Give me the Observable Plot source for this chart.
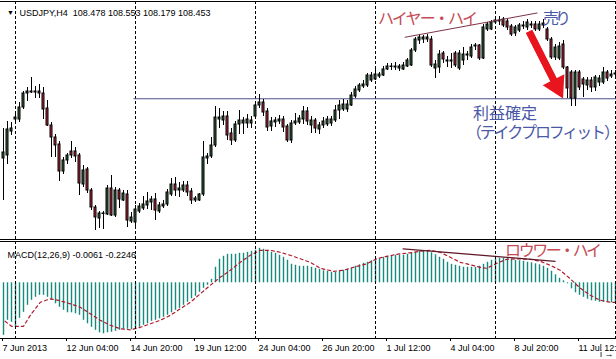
<!DOCTYPE html>
<html><head><meta charset="utf-8">
<script src="https://cdn.jsdelivr.net/npm/d3@7"></script>
<script src="https://cdn.jsdelivr.net/npm/@observablehq/plot@0.6"></script>
<style>
body{margin:0;background:#fff;}
#chart{position:relative;width:616px;height:359px;overflow:hidden;background:#fff;}
#chart svg{position:absolute;left:0;display:block;}
</style></head><body><div id="chart"></div>
<script>
// ---- price data (USDJPY H4), bar index 0..153 ----
const open = [95.98,96.10,97.06,97.54,97.54,98.02,98.58,98.66,98.62,98.66,
98.58,97.98,97.30,96.82,96.54,95.46,95.90,96.26,96.26,96.10,
94.94,95.54,94.70,94.02,93.58,93.78,93.74,94.78,93.70,94.70,
94.30,94.54,93.46,93.42,93.86,93.98,94.10,94.22,94.34,93.86,
94.06,94.14,94.54,94.94,94.70,94.70,94.90,94.66,94.30,94.30,
94.54,95.98,96.06,96.50,97.54,97.50,97.66,96.98,96.70,97.34,
97.38,97.38,97.38,97.66,98.10,98.22,97.86,97.26,97.42,97.46,
97.54,97.26,96.70,97.38,97.42,97.54,97.86,97.30,97.50,97.14,
97.30,97.34,97.38,97.50,97.90,97.94,97.94,98.10,98.46,98.70,
98.86,98.90,99.10,99.14,99.26,99.30,99.54,99.66,99.62,99.58,
99.54,99.66,99.70,100.30,100.70,100.74,100.74,100.74,99.58,99.62,
100.18,99.86,99.90,100.18,99.58,99.90,100.10,100.06,100.46,100.50,
99.98,101.14,101.14,101.42,101.46,101.54,101.46,101.26,100.98,101.10,
101.26,101.22,101.30,101.34,101.14,101.30,101.14,100.74,100.02,99.98,
100.54,99.62,99.42,98.38,99.42,99.14,98.90,99.10,98.82,99.02,
99.02,99.42,99.26,99.34];
const high = [97.18,97.46,97.42,97.82,98.22,98.66,98.82,99.22,98.86,98.94,
98.82,98.30,97.42,96.94,96.66,96.02,96.18,96.66,96.42,96.18,
95.70,95.62,94.78,94.10,93.86,93.86,94.90,95.30,94.82,94.78,
94.70,94.70,93.82,94.10,94.18,94.46,94.62,94.46,94.58,94.22,
94.30,94.74,95.18,95.22,95.02,95.06,95.06,94.78,94.46,94.58,
96.66,96.18,96.82,98.06,97.98,97.86,97.86,97.18,97.46,97.90,
97.62,97.74,97.66,98.26,98.54,98.34,97.98,97.62,97.62,97.70,
97.66,97.34,97.50,97.78,97.70,98.06,98.02,97.66,97.58,97.42,
97.62,97.66,97.66,98.10,98.30,98.34,98.30,98.62,98.86,98.98,
99.10,99.38,99.42,99.62,99.42,99.66,99.78,99.78,99.82,99.74,
99.82,99.98,100.38,100.82,100.94,100.90,100.94,100.86,99.90,100.30,
100.26,100.06,100.18,100.26,100.30,100.42,100.26,100.54,100.58,100.54,
101.34,101.42,101.50,101.62,101.66,101.62,101.54,101.34,101.30,101.38,
101.46,101.54,101.46,101.46,101.46,101.54,101.22,100.82,100.54,100.62,
100.70,99.66,99.50,99.50,99.50,99.22,99.22,99.22,99.30,99.30,
99.62,99.50,99.50,99.50];
const low = [94.30,95.74,96.90,97.34,97.42,97.94,98.26,98.58,98.38,98.38,
97.54,97.26,96.02,96.02,95.06,95.34,95.74,95.98,95.82,94.50,
94.82,94.58,93.90,93.10,93.18,93.14,93.70,93.66,93.62,93.98,
94.26,93.22,93.38,93.22,93.78,93.90,93.94,93.90,93.50,93.78,
93.98,94.06,94.46,94.46,94.42,94.62,94.46,94.14,94.22,94.26,
94.46,95.74,95.98,96.42,97.18,97.30,96.70,96.50,96.62,96.94,
96.94,97.18,97.18,97.58,97.98,97.66,97.06,97.06,97.22,97.34,
97.02,96.62,96.58,97.30,97.34,97.34,97.30,96.98,96.98,96.94,
97.18,97.26,97.26,97.42,97.54,97.86,97.82,98.06,98.38,98.62,
98.78,98.82,99.02,99.10,99.18,99.26,99.50,99.50,99.50,99.46,
99.50,99.62,99.66,100.22,100.54,100.58,100.62,99.62,99.18,99.38,
99.78,99.62,99.58,99.62,99.50,99.70,99.90,99.98,100.30,99.90,
99.94,101.06,101.10,101.34,101.30,101.22,101.10,100.86,100.86,101.02,
101.14,101.10,101.18,101.06,101.06,101.18,100.66,99.94,99.90,99.90,
99.54,98.38,98.06,98.06,98.70,98.42,98.70,98.62,98.66,98.86,
98.94,99.06,99.18,99.18];
const close = [96.22,97.14,97.18,97.62,98.02,98.58,98.66,98.62,98.66,98.58,
97.94,97.30,96.82,96.50,95.46,95.90,96.10,96.10,96.06,94.98,
95.50,94.70,94.02,93.62,93.78,93.76,94.78,93.70,94.70,94.34,
94.58,93.50,93.62,93.94,94.06,94.14,94.26,94.34,93.90,94.10,
94.14,94.62,94.94,94.70,94.78,94.90,94.62,94.30,94.38,94.54,
96.02,96.06,96.50,97.62,97.62,97.66,96.90,96.70,97.34,97.50,
97.50,97.54,97.50,98.10,98.22,97.82,97.22,97.46,97.50,97.54,
97.22,96.70,97.38,97.46,97.58,97.86,97.46,97.50,97.18,97.30,
97.46,97.54,97.54,97.90,98.10,98.14,98.14,98.50,98.74,98.90,
98.94,99.30,99.30,99.34,99.34,99.54,99.66,99.64,99.66,99.66,
99.70,99.90,100.30,100.74,100.82,100.82,100.82,99.70,99.74,100.14,
99.94,99.90,99.86,99.70,100.18,100.14,100.14,100.42,100.50,99.98,
101.22,101.34,101.42,101.50,101.50,101.30,101.22,100.94,101.22,101.30,
101.30,101.42,101.34,101.14,101.34,101.38,100.74,100.02,100.42,100.46,
99.62,98.78,98.38,99.42,98.82,98.94,99.10,98.82,99.22,99.18,
99.42,99.18,99.34,99.38];

// ---- MACD(12,26,9): main (histogram) per bar, signal read at sampled bars ----
const macdHist = [-1.05,-0.75,-0.79,-0.89,-0.71,-0.59,-0.45,-0.35,-0.29,-0.25,
-0.25,-0.29,-0.35,-0.42,-0.49,-0.55,-0.60,-0.60,-0.62,-0.65,
-0.75,-0.82,-0.89,-0.95,-1.00,-1.02,-1.00,-0.99,-0.97,-0.95,
-0.93,-0.93,-0.94,-0.92,-0.89,-0.85,-0.82,-0.77,-0.75,-0.72,
-0.69,-0.65,-0.60,-0.55,-0.51,-0.45,-0.39,-0.32,-0.27,-0.19,
-0.11,-0.05,0.07,0.31,0.47,0.53,0.57,0.57,0.57,0.59,
0.59,0.61,0.63,0.65,0.69,0.67,0.65,0.61,0.59,0.55,
0.51,0.45,0.37,0.35,0.33,0.33,0.33,0.31,0.29,0.27,
0.24,0.23,0.21,0.21,0.23,0.25,0.27,0.29,0.33,0.36,
0.39,0.41,0.44,0.46,0.48,0.51,0.53,0.54,0.55,0.55,
0.55,0.57,0.59,0.61,0.63,0.64,0.63,0.60,0.56,0.51,
0.47,0.41,0.37,0.35,0.33,0.31,0.31,0.31,0.31,0.33,
0.37,0.41,0.45,0.48,0.49,0.49,0.48,0.47,0.45,0.44,
0.43,0.41,0.40,0.38,0.36,0.33,0.29,0.23,0.16,0.09,
0.04,-0.02,-0.12,-0.20,-0.25,-0.29,-0.33,-0.36,-0.37,-0.39,
-0.39,-0.39,-0.40,-0.40];
const signalBar = [0.4,2,5,6.7,9.2,11.7,13.75,16.7,19.2,21.7,24.2,26.7,29.2,31.7,34.2,36.7,39.2,41.7,44.2,46.7,49.2,51.7,54.2,56.7,59.2,61.7,64.2,66.7,69.2,71.7,74.2,76.7,79.2,82.5,85,87.5,90.8,93.3,95.8,99.2,101.7,104.2,106.7,109.2,111.7,114.2,116.7,119.2,120.8,123.3,125.8,128.3,131.7,134.2,136.7,139.2,141.7,144.2,146.7,149.2,151.7,153];
const signalVal = [-0.77,-0.87,-0.87,-0.65,-0.39,-0.32,-0.35,-0.42,-0.49,-0.62,-0.75,-0.85,-0.92,-0.94,-0.89,-0.82,-0.75,-0.65,-0.52,-0.39,-0.22,-0.05,0.11,0.25,0.41,0.55,0.65,0.65,0.61,0.55,0.48,0.41,0.29,0.23,0.25,0.31,0.38,0.48,0.53,0.58,0.60,0.63,0.65,0.61,0.51,0.41,0.36,0.31,0.29,0.39,0.47,0.48,0.47,0.43,0.35,0.25,0.08,-0.11,-0.25,-0.35,-0.39,-0.39];

// ---- time axis ----
const tickBars = [0,16,32,48,64,80,96,112,128,144];
const tickLabels = ["7 Jun 2013","12 Jun 04:00","14 Jun 20:00","19 Jun 12:00","24 Jun 04:00","26 Jun 20:00","1 Jul 12:00","4 Jul 04:00","8 Jul 20:00","11 Jul 12:00"];
const gridBars = [3,33,63,93,123,153];

// ---- drawn objects (bar index, price / MACD value) ----
const headerText = "USDJPY,H4  108.478 108.553 108.179 108.453";
const macdText = "MACD(12,26,9) -0.0061 -0.2246";
const takeProfitPrice = 98.37, takeProfitFrom = 32.6, takeProfitTo = 153.4;
const higherHighLine = [{i:100.4, p:100.83},{i:133.4, p:101.80}];
const lowerHighLine = [{i:99.9, v:0.68},{i:137.9, v:0.43}];
const arrowShaft = [{i:131.4, p:101.06},{i:137.6, p:99.10}];
const arrowHead = [{i:138.3, p:98.88}];
const mainNotes = [
  {i:93.6, p:101.58, t:"ハイヤー・ハイ", c:"red", w:100},
  {i:134.9, p:101.56, t:"売り", c:"blue", w:28},
  {i:117.4, p:97.78, t:"利益確定", c:"blue", w:64},
  {i:115.6, p:97.02, t:"（テイクプロフィット）", c:"blue", w:154}
];
const macdNotes = [{i:125.4, v:0.63, t:"ロウワー・ハイ", c:"red", w:97}];

const RED = "#c74a55", BLUE = "#4a58a6";
const bars = open.map((o, i) => ({i, open:o, high:high[i], low:low[i], close:close[i], up: close[i] >= o}));
const hist = macdHist.map((v, i) => ({i, v}));
const signal = signalBar.map((b, k) => ({i:b, v:signalVal[k]}));

const xOpt = {type:"linear", domain:[0,153], range:[3,615], axis:null};
const baseStyle = {background:"transparent", fontFamily:"Liberation Sans, Arial, sans-serif", fontSize:"9px", color:"#000"};

const main = Plot.plot({
  width:616, height:240, marginTop:1, marginBottom:1, marginLeft:0, marginRight:0,
  x: xOpt,
  y: {domain:[92.74, 102.26], axis:null},
  style: baseStyle,
  marks: [
    Plot.frame({anchor:"top", stroke:"#000"}),
    Plot.frame({anchor:"bottom", stroke:"#000"}),
    Plot.ruleX(gridBars, {stroke:"#000", strokeDasharray:"3,2"}),
    Plot.ruleY([takeProfitPrice], {x1:takeProfitFrom, x2:takeProfitTo, stroke:"#4e5288"}),
    Plot.ruleX(bars, {x:"i", y1:"low", y2:"high", stroke:"#000"}),
    Plot.rect(bars, {x1: d => d.i - 0.25, x2: d => d.i + 0.25, y1:"open", y2:"close",
      fill: d => d.up ? "#2f5e37" : "#b02a3c", stroke:"#000", strokeWidth:1}),
    Plot.line(higherHighLine, {x:"i", y:"p", stroke:"#7a3446", strokeWidth:1}),
    Plot.link(arrowShaft, {x1: arrowShaft[0].i, y1: arrowShaft[0].p, x2: arrowShaft[1].i, y2: arrowShaft[1].p, stroke:"#e8141e", strokeWidth:7}),
    Plot.dot(arrowHead, {x:"i", y:"p", symbol:"triangle", r:9, rotate:153, fill:"#e8141e", stroke:"none"}),
    Plot.text(mainNotes, {x:"i", y:"p", text:"t", fill: d => d.c === "red" ? RED : BLUE,
      textAnchor:"start", fontFamily:"Noto Sans CJK JP", fontSize:16}),
    Plot.text(["▼"], {frameAnchor:"top-left", dx:6.5, dy:9, fontSize:7, fill:"#000"}),
    Plot.text([headerText], {frameAnchor:"top-left", dx:19, dy:8, textAnchor:"start", fontSize:9, fill:"#000"})
  ]
});

const macd = Plot.plot({
  width:616, height:119, marginTop:1, marginBottom:21, marginLeft:0, marginRight:0,
  x: xOpt,
  y: {domain:[-1.114, 0.826], axis:null},
  style: baseStyle,
  marks: [
    Plot.frame({anchor:"top", stroke:"#000"}),
    Plot.frame({anchor:"bottom", stroke:"#000"}),
    Plot.ruleX(hist, {x:"i", y1:0, y2:"v", stroke:"#14897c", strokeWidth:1.4}),
    Plot.line(signal, {x:"i", y:"v", stroke:"#b01c2c", strokeDasharray:"3,3", strokeWidth:1.2}),
    Plot.line(lowerHighLine, {x:"i", y:"v", stroke:"#5e1a28", strokeWidth:1.3}),
    Plot.text([macdText], {frameAnchor:"top-left", dx:7, dy:10, textAnchor:"start", fontSize:9, fill:"#000"}),
    Plot.ruleX(gridBars, {stroke:"#000", strokeDasharray:"3,2"}),
    Plot.text(macdNotes, {x:"i", y:"v", text:"t", fill:RED, textAnchor:"start", fontFamily:"Noto Sans CJK JP", fontSize:16}),
    Plot.axisX(tickBars, {anchor:"bottom", tickSize:3, tickPadding:3, textAnchor:"start", dx:-1,
      tickFormat: d => tickLabels[tickBars.indexOf(d)], fontSize:9, stroke:"#000", fill:"#000"})
  ]
});

// fit the Japanese notes to the widths they occupy in the reference
const widthOf = new Map([...mainNotes, ...macdNotes].map(d => [d.t, d.w]));
for (const svg of [main, macd]) {
  d3.select(svg).selectAll('g[font-family="Noto Sans CJK JP"] text').each(function () {
    const w = widthOf.get(this.textContent);
    if (w) { this.setAttribute("textLength", w); this.setAttribute("lengthAdjust", "spacing"); }
  });
}

const root = document.getElementById("chart");
main.style.top = "0px";
macd.style.top = "240px";
root.appendChild(main);
root.appendChild(macd);
</script></body></html>
